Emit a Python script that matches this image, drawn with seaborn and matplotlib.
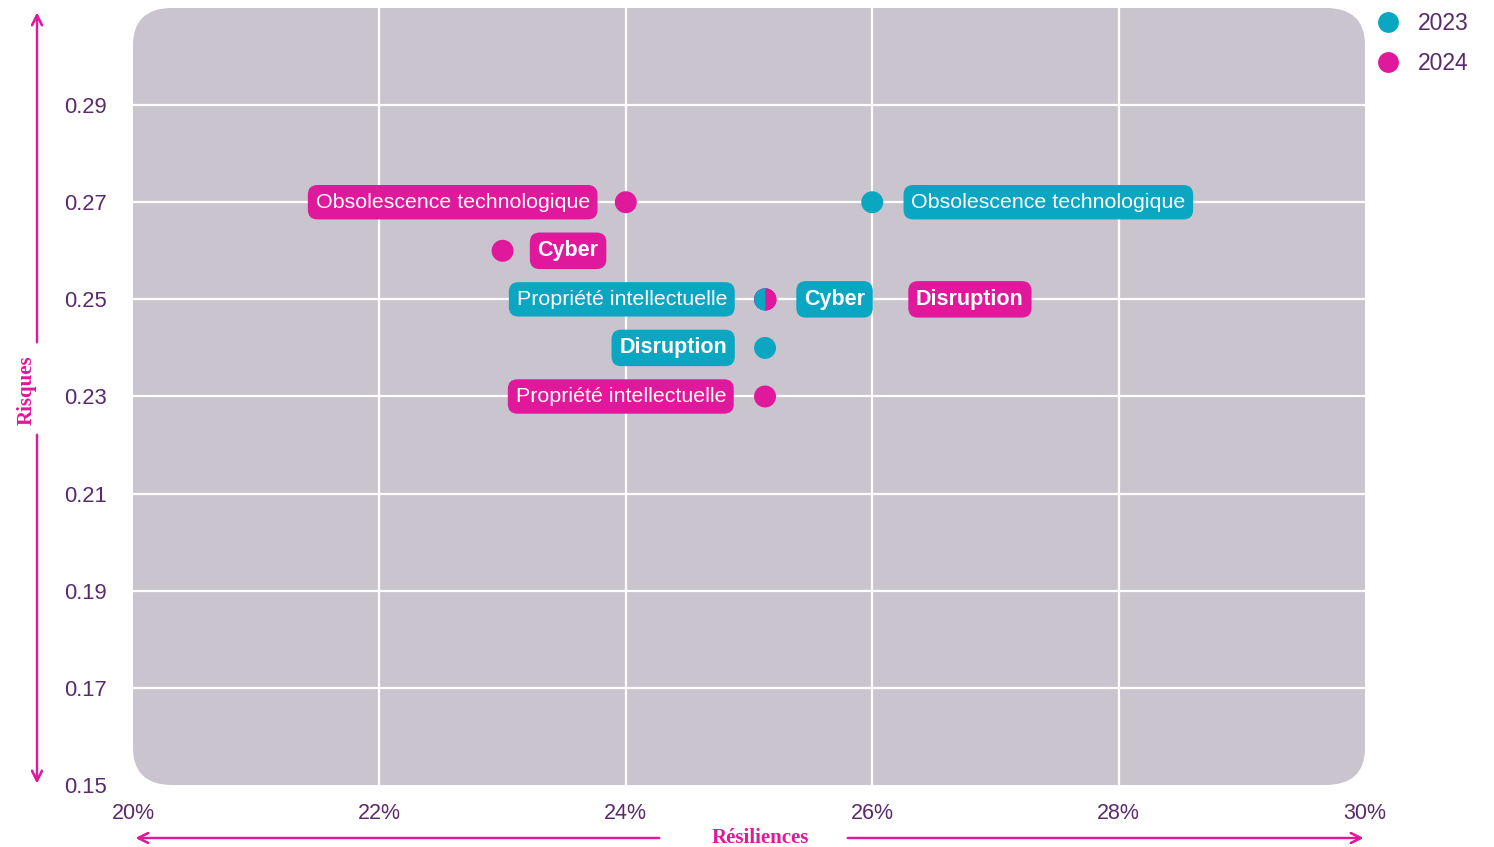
import numpy as np
import pandas as pd
import seaborn as sns
import matplotlib.pyplot as plt
from matplotlib.patches import FancyBboxPatch

# data
risks = ["Obsolescence technologique", "Cyber", "Propriété intellectuelle", "Disruption"]
resil_2023 = [26.0, 25.13, 25.13, 25.13]
risk_2023 = [0.27, 0.25, 0.25, 0.24]
resil_2024 = [24.0, 23.0, 25.13, 25.13]
risk_2024 = [0.27, 0.26, 0.23, 0.25]
years = ["2023", "2024"]

x_ticks = [20, 22, 24, 26, 28, 30]
y_ticks = [0.15, 0.17, 0.19, 0.21, 0.23, 0.25, 0.27, 0.29]

# label placement (pixel offsets from the dot to the text edge)
label_dx = {
    ("2023", "Obsolescence technologique"): 39,
    ("2023", "Cyber"): 39,
    ("2023", "Propriété intellectuelle"): -38,
    ("2023", "Disruption"): -38,
    ("2024", "Obsolescence technologique"): -36,
    ("2024", "Cyber"): 35,
    ("2024", "Propriété intellectuelle"): -39,
    ("2024", "Disruption"): 151,
}
bold_labels = ["Cyber", "Disruption"]

TEAL = "#0aa6c2"
MAGENTA = "#e0189c"
PANEL = "#cac4cf"
TXT = "#5a2a6c"
palette = {"2023": TEAL, "2024": MAGENTA}

df = pd.concat([
    pd.DataFrame({"risk": risks, "resilience": resil_2023, "score": risk_2023, "year": "2023"}),
    pd.DataFrame({"risk": risks, "resilience": resil_2024, "score": risk_2024, "year": "2024"}),
], ignore_index=True)

sns.set_style("white")
plt.rcParams['font.family'] = ['Liberation Sans', 'DejaVu Sans']

fig = plt.figure(figsize=(14.94, 8.47), dpi=100)
ax = fig.add_axes([0.089, 0.0732, 0.8247, 0.9174])
ax.set_xlim(20, 30)
ax.set_ylim(0.15, 0.31)
ax.patch.set_alpha(0)

# rounded panel behind everything
panel = FancyBboxPatch((0, 0), 1, 1, boxstyle="round,pad=0,rounding_size=0.032",
                       transform=ax.transAxes, fc=PANEL, ec="none", zorder=0,
                       mutation_aspect=1.5)
ax.add_patch(panel)
for xv in x_ticks[1:-1]:
    ax.axvline(xv, color="white", lw=1.6, zorder=1)
for yv in y_ticks[1:]:
    ax.axhline(yv, color="white", lw=1.6, zorder=1)

sns.scatterplot(data=df, x="resilience", y="score", hue="year", hue_order=years,
                palette=palette, s=250, linewidth=0, ax=ax, zorder=3, legend=False)

# split dot where both years overlap
for i in range(len(risks)):
    for j in range(len(risks)):
        if resil_2023[i] == resil_2024[j] and risk_2023[i] == risk_2024[j]:
            ax.plot(resil_2023[i], risk_2023[i], marker="o", ms=15.8, fillstyle="left",
                    markerfacecolor=TEAL, markerfacecoloralt=MAGENTA,
                    markeredgewidth=0, zorder=4)

for _, r in df.iterrows():
    dx = label_dx[(r["year"], r["risk"])]
    is_bold = r["risk"] in bold_labels
    ax.annotate(r["risk"], (r["resilience"], r["score"]), xytext=(dx, 0),
                textcoords="offset pixels", ha="left" if dx > 0 else "right",
                va="center", fontsize=15.5 if is_bold else 15.4, color="white",
                fontweight="bold" if is_bold else "normal",
                bbox=dict(boxstyle="round,pad=0.36,rounding_size=0.45",
                          fc=palette[r["year"]], ec="none"), zorder=5)

ax.set_xticks(x_ticks)
ax.set_xticklabels([f"{v}%" for v in x_ticks])
ax.set_yticks(y_ticks)
ax.set_yticklabels([f"{v:.2f}" for v in y_ticks])
ax.tick_params(axis="x", length=0, pad=13, labelsize=15.5, labelcolor=TXT)
ax.tick_params(axis="y", length=0, pad=19, labelsize=15.8, labelcolor=TXT)
ax.set_xlabel("")
ax.set_ylabel("")
sns.despine(ax=ax, left=True, bottom=True)

# legend
handles = [plt.Line2D([], [], marker="o", ls="", ms=15, mfc=palette[y], mec="none") for y in years]
leg = fig.legend(handles, years, loc="upper left", bbox_to_anchor=(0.9, 1.01),
                 frameon=False, fontsize=16.5, handletextpad=0.3, labelspacing=0.75)
for t in leg.get_texts():
    t.set_color(TXT)

# axis arrows
W, H = 1494, 847
def fpt(px, py):
    return (px / W, 1 - py / H)

arrow = dict(arrowstyle="->", color=MAGENTA, lw=1.6, mutation_scale=18)
fig.add_artist(plt.annotate("", xy=fpt(37, 10), xytext=fpt(37, 345), xycoords="figure fraction", arrowprops=arrow))
fig.add_artist(plt.annotate("", xy=fpt(37, 786), xytext=fpt(37, 432), xycoords="figure fraction", arrowprops=arrow))
fig.add_artist(plt.annotate("", xy=fpt(133, 838), xytext=fpt(662, 838), xycoords="figure fraction", arrowprops=arrow))
fig.add_artist(plt.annotate("", xy=fpt(1366, 838), xytext=fpt(845, 838), xycoords="figure fraction", arrowprops=arrow))
fig.text(*fpt(27, 390), "Risques", rotation=90, ha="center", va="center", color=MAGENTA,
         fontsize=15, fontweight="bold", family=["Liberation Serif", "DejaVu Serif"])
fig.text(*fpt(760, 838), "Résiliences", ha="center", va="center", color=MAGENTA,
         fontsize=15, fontweight="bold", family=["Liberation Serif", "DejaVu Serif"])

fig.savefig("out.png", dpi=100)
